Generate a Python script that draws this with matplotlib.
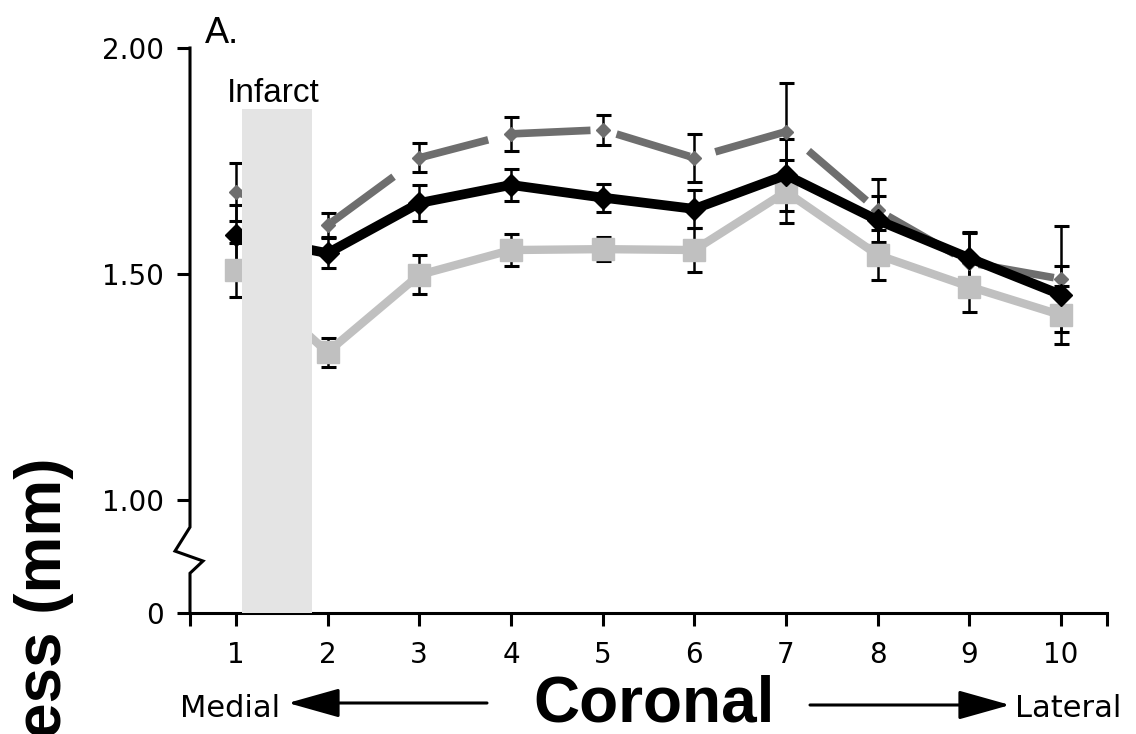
import matplotlib
matplotlib.use('Agg')
import matplotlib.pyplot as plt
from matplotlib.patches import Rectangle

# data
positions = [1, 2, 3, 4, 5, 6, 7, 8, 9, 10]
black_vals = [1.586, 1.546, 1.657, 1.697, 1.669, 1.644, 1.719, 1.619, 1.535, 1.454]
black_err = [0.067, 0.033, 0.040, 0.036, 0.031, 0.042, 0.079, 0.054, 0.055, 0.064]
gray_vals = [1.682, 1.608, 1.757, 1.810, 1.819, 1.757, 1.815, 1.641, 1.525, 1.489]
gray_err = [0.064, 0.026, 0.032, 0.038, 0.033, 0.053, 0.107, 0.070, 0.068, 0.117]
light_vals = [1.509, 1.327, 1.498, 1.553, 1.555, 1.553, 1.682, 1.542, 1.472, 1.409]
light_err = [0.059, 0.032, 0.043, 0.035, 0.027, 0.048, 0.070, 0.055, 0.057, 0.064]

infarct_span = (1.066, 1.83)
infarct_top = 1.865

ytick_vals = [0.75, 1.0, 1.5, 2.0]
ytick_labels = ['0', '1.00', '1.50', '2.00']

W, H = 1136, 734
fig = plt.figure(figsize=(W / 100, H / 100), dpi=100)
ax = fig.add_axes([190 / W, 1 - 613 / H, (1107 - 190) / W, (613 - 48) / H])

ebkw = dict(fmt='none', ecolor='black', elinewidth=1.8, capsize=5.4, capthick=2.2, zorder=2)

# error bars under the lines
ax.errorbar(positions, light_vals, yerr=light_err, **ebkw)
ax.errorbar(positions, gray_vals, yerr=gray_err, **ebkw)
ax.errorbar(positions, black_vals, yerr=black_err, **ebkw)

ax.plot(positions, light_vals, color='#c0c0c0', lw=6, marker='s', ms=16,
        solid_joinstyle='miter', zorder=3)
ax.plot(positions, gray_vals, color='#6e6e6e', lw=5.5, marker='D', ms=7,
        dashes=(10, 3.5), dash_capstyle='butt', zorder=4)
ax.plot(positions, black_vals, color='black', lw=7, marker='D', ms=11,
        solid_joinstyle='miter', zorder=5)

# infarct band sits on top of the lines
ax.add_patch(Rectangle((infarct_span[0], 0.75), infarct_span[1] - infarct_span[0],
                       infarct_top - 0.75, facecolor='#e4e4e4', edgecolor='none', zorder=6))
ax.text(infarct_span[0] - 0.16, infarct_top + 0.015, 'Infarct', fontsize=24,
        family='Liberation Sans', ha='left', va='baseline')

ax.set_xlim(0.5, 10.5)
ax.set_ylim(0.75, 2.0)
xt = [0.5] + positions + [10.5]
ax.set_xticks(xt, [''] + [str(p) for p in positions] + [''])
ax.set_yticks(ytick_vals, ytick_labels)
ax.tick_params(axis='both', direction='out', length=9.5, width=2.2, labelsize=20, pad=9)
ax.tick_params(axis='x', pad=11)

for s in ['top', 'right', 'left']:
    ax.spines[s].set_visible(False)
ax.spines['bottom'].set_linewidth(2.2)

# left axis with a break
dx = 1 / (1107 - 190)
ax.plot([0, 0, -15 * dx, 13 * dx, 0, 0], [2.0, 0.94, 0.887, 0.865, 0.838, 0.75],
        transform=ax.get_yaxis_transform(), color='black', lw=2.2, clip_on=False,
        solid_joinstyle='miter', solid_capstyle='projecting', zorder=7)

fig.text(205 / W, 1 - 43 / H, 'A.', fontsize=26, family='Liberation Sans', ha='left', va='baseline')

# axis title with direction arrows
fig.text(654 / W, 1 - 721 / H, 'Coronal', fontsize=46, weight='bold', family='Liberation Sans',
         ha='center', va='baseline')
fig.text(180 / W, 1 - 717 / H, 'Medial', fontsize=22, ha='left', va='baseline')
fig.text(1015 / W, 1 - 717 / H, 'Lateral', fontsize=22, ha='left', va='baseline')
arrow = dict(arrowstyle='-|>,head_length=3.2,head_width=0.9', lw=2.2, color='black',
             mutation_scale=10, shrinkA=0, shrinkB=0)
ax.annotate('', xy=(288, H - 703), xytext=(487, H - 703), xycoords='figure pixels',
            textcoords='figure pixels', arrowprops=arrow)
ax.annotate('', xy=(1010, H - 705), xytext=(810, H - 705), xycoords='figure pixels',
            textcoords='figure pixels', arrowprops=arrow)

fig.text(44 / W, 1 - 458 / H, 'Thickness (mm)', fontsize=46, weight='bold',
         family='Liberation Sans', rotation=90, ha='center', va='top')

fig.savefig('out.png', dpi=100)
